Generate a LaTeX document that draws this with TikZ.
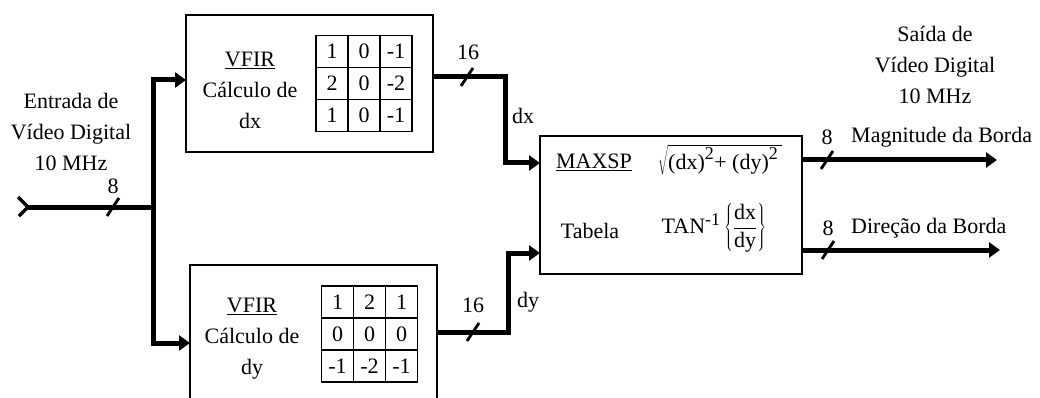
\documentclass[tikz,border=0pt]{standalone}
\usepackage{fontspec}
\setmainfont{Liberation Serif}
\usetikzlibrary{arrows.meta,matrix,calc}
\newcommand{\supsz}[1]{\mbox{\fontsize{18}{18}\selectfont #1}}
\begin{document}
\begin{tikzpicture}[x=1pt,y=-1pt,
  box/.style={draw, line width=1.5pt, inner sep=0pt, outer sep=0pt},
  bus/.style={line width=5pt},
  busarrow/.style={bus, -{Triangle[length=11pt,width=15pt]}},
  slashmark/.style={line width=2.8pt},
  lbl/.style={font=\fontsize{22}{31}\selectfont, inner sep=0pt, align=center},
  kern/.style={matrix of nodes, inner sep=0pt, column sep=-1.5pt, row sep=-1.5pt,
    nodes={draw, line width=1.5pt, minimum width=32pt, minimum height=32pt, inner sep=0pt,
      anchor=center, font=\fontsize{22}{24}\selectfont}}
]
\useasboundingbox (0,0) rectangle (1040,398);

% blocks
\node[box, minimum width=247pt, minimum height=137pt] (fx) at (309.5,83.5) {};
\node[inner sep=0pt, outer sep=0pt, minimum width=247pt, minimum height=134pt] (fy) at (313.5,332) {};
\draw[line width=1.5pt] (fy.south west) -- (fy.north west) -- (fy.north east) -- (fy.south east);
\node[box, minimum width=262pt, minimum height=138pt] (mx) at (671,205) {};

% block texts
\node[lbl] (fxt) at (250,90) {\underline{VFIR}\\Cálculo de\\dx};
\node[lbl] (fyt) at (252,339) {\underline{VFIR}\\Cálculo de\\dy};
\matrix (kx) [kern] at (364,83.5) {
  1 & 0 & -1 \\
  2 & 0 & -2 \\
  1 & 0 & -1 \\
};
\matrix (ky) [kern] at (369.5,334) {
  1 & 2 & 1 \\
  0 & 0 & 0 \\
  -1 & -2 & -1 \\
};
\node[lbl] (maxsp) at (594,162) {\underline{MAXSP}};
\node[lbl] (sq) at (720,160) {$\sqrt{\mbox{(dx)}^{\supsz{2}}\mbox{+ (dy)}^{\supsz{2}}\,}$};
\node[lbl] (tab) at (590,231) {Tabela};
\node[lbl] (tan) at (714,228) {TAN$^{\supsz{-1}}\left\{\displaystyle\frac{\mbox{dx}}{\mbox{dy}}\right\}$};

% input / output labels
\node[lbl] (inl) at (71,132) {Entrada de\\Vídeo Digital\\10 MHz};
\node[lbl] (outl) at (935,65) {Saída de\\Vídeo Digital\\10 MHz};

% connectors
\coordinate (in) at (28,207);
\coordinate (br) at (153,207);
\draw[line width=3.5pt] ($(in)+(-10,-10)$) -- (in) -- ($(in)+(-9,9)$);
\draw[bus] (in) -- (br);
\draw[busarrow] (br) |- ([yshift=3.5pt]fx.west);
\draw[busarrow] (br) |- ([yshift=-11pt]fy.west);
\draw[busarrow] ([yshift=6.5pt]fx.east) -- ++(72,0) |- ([yshift=42pt]mx.west);
\draw[busarrow] (fy.east) -- ++(71,0) |- ([yshift=-48pt]mx.west);
\coordinate (o1) at (997,160);
\coordinate (o2) at (1000,250);
\draw[busarrow] ([yshift=45pt]mx.east) -- (o1);
\draw[busarrow] ([yshift=-45pt]mx.east) -- (o2);

% bus width marks
\foreach \n/\p in {s1/{113,207}, s2/{467,77}, s3/{473,332}, s4/{827,160}, s5/{828,250}} {
  \coordinate (\n) at (\p);
  \draw[slashmark] ($(\n)+(-6,9)$) -- ($(\n)+(6,-9)$);
}

% bus labels
\node[lbl] (l8in) at (113,186) {8};
\node[lbl] (l16x) at (468,52) {16};
\node[lbl] (ldx) at (523,116) {dx};
\node[lbl] (l16y) at (473,305) {16};
\node[lbl] (ldy) at (528,302) {dy};
\node[lbl] (l8a) at (827,137) {8};
\node[lbl, anchor=west] (mag) at (851,137) {Magnitude da Borda};
\node[lbl] (l8b) at (828,228) {8};
\node[lbl, anchor=west] (dir) at (851,228) {Direção da Borda};
\end{tikzpicture}
\end{document}
